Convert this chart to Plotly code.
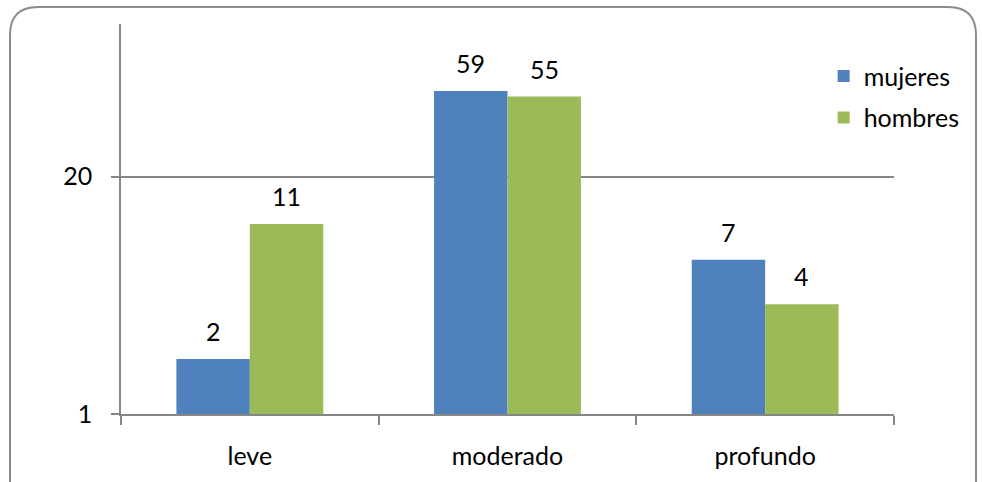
import math
import plotly.graph_objects as go

categories = ["leve", "moderado", "profundo"]
mujeres = [2, 59, 7]
hombres = [11, 55, 4]
tick_vals = [1, 20]
tick_text = ["1", "20"]

FONT = "Lato, 'Open Sans', sans-serif"
BLUE = "#4f81bd"
GREEN = "#9bbb59"
AXIS = "#868686"
FS = 25
BARGAP = 0.43

fig = go.Figure()
fig.add_trace(go.Bar(name="mujeres", x=categories, y=mujeres, marker_color=BLUE,
                     marker_line_width=0, legendgroup="m"))
fig.add_trace(go.Bar(name="hombres", x=categories, y=hombres, marker_color=GREEN,
                     marker_line_width=0, legendgroup="h"))

# value labels above each bar centre (log axis: annotation y is given as log10)
half_bar = (1 - BARGAP) / 4
offsets = {"mujeres": -half_bar, "hombres": half_bar}
for name, vals in (("mujeres", mujeres), ("hombres", hombres)):
    for i, v in enumerate(vals):
        fig.add_annotation(x=i + offsets[name], y=math.log10(v), yref="y", xref="x",
                           text=str(v), showarrow=False, yanchor="bottom",
                           yshift=11, font=dict(size=FS, color="#000000"))

fig.update_layout(
    width=982, height=482,
    margin=dict(l=121, r=88, t=24, b=68, autoexpand=False),
    paper_bgcolor="white", plot_bgcolor="white",
    font=dict(family=FONT, size=FS, color="#000000"),
    barmode="group", bargap=BARGAP, bargroupgap=0,
    legend=dict(x=0.909, xanchor="left", y=0.925, yanchor="top",
                bgcolor="rgba(0,0,0,0)", font=dict(size=FS),
                itemwidth=30, traceorder="grouped", tracegroupgap=6),
    showlegend=True,
)
fig.update_xaxes(showline=True, linecolor=AXIS, linewidth=1.5,
                 ticks="outside", tickson="boundaries", ticklen=9,
                 tickcolor=AXIS, tickwidth=1.5, showgrid=False,
                 tickfont=dict(size=FS), ticklabelstandoff=19)
fig.update_yaxes(type="log", range=[0, 2.138], tickvals=tick_vals,
                 ticktext=tick_text, showline=True, linecolor=AXIS,
                 linewidth=1.5, ticks="outside", ticklen=8, tickcolor=AXIS,
                 tickwidth=1.5, showgrid=True, gridcolor=AXIS, gridwidth=1.5,
                 zeroline=False, tickfont=dict(size=FS), ticklabelstandoff=14)

# rounded chart frame, running off the bottom edge (pixel coords from plot corner)
r = 28
x0, y0, x1, y1 = 10, 7, 976, 500
L, T = 121, 24
fig.add_shape(type="path", xsizemode="pixel", ysizemode="pixel",
              xref="paper", yref="paper", xanchor=0, yanchor=1,
              path=(f"M {x0 - L},{T - y1} L {x0 - L},{T - y0 - r} "
                    f"Q {x0 - L},{T - y0} {x0 - L + r},{T - y0} "
                    f"L {x1 - L - r},{T - y0} Q {x1 - L},{T - y0} "
                    f"{x1 - L},{T - y0 - r} L {x1 - L},{T - y1}"),
              line=dict(color="#8c8c8c", width=2), layer="below")

fig.write_html("out.html")
